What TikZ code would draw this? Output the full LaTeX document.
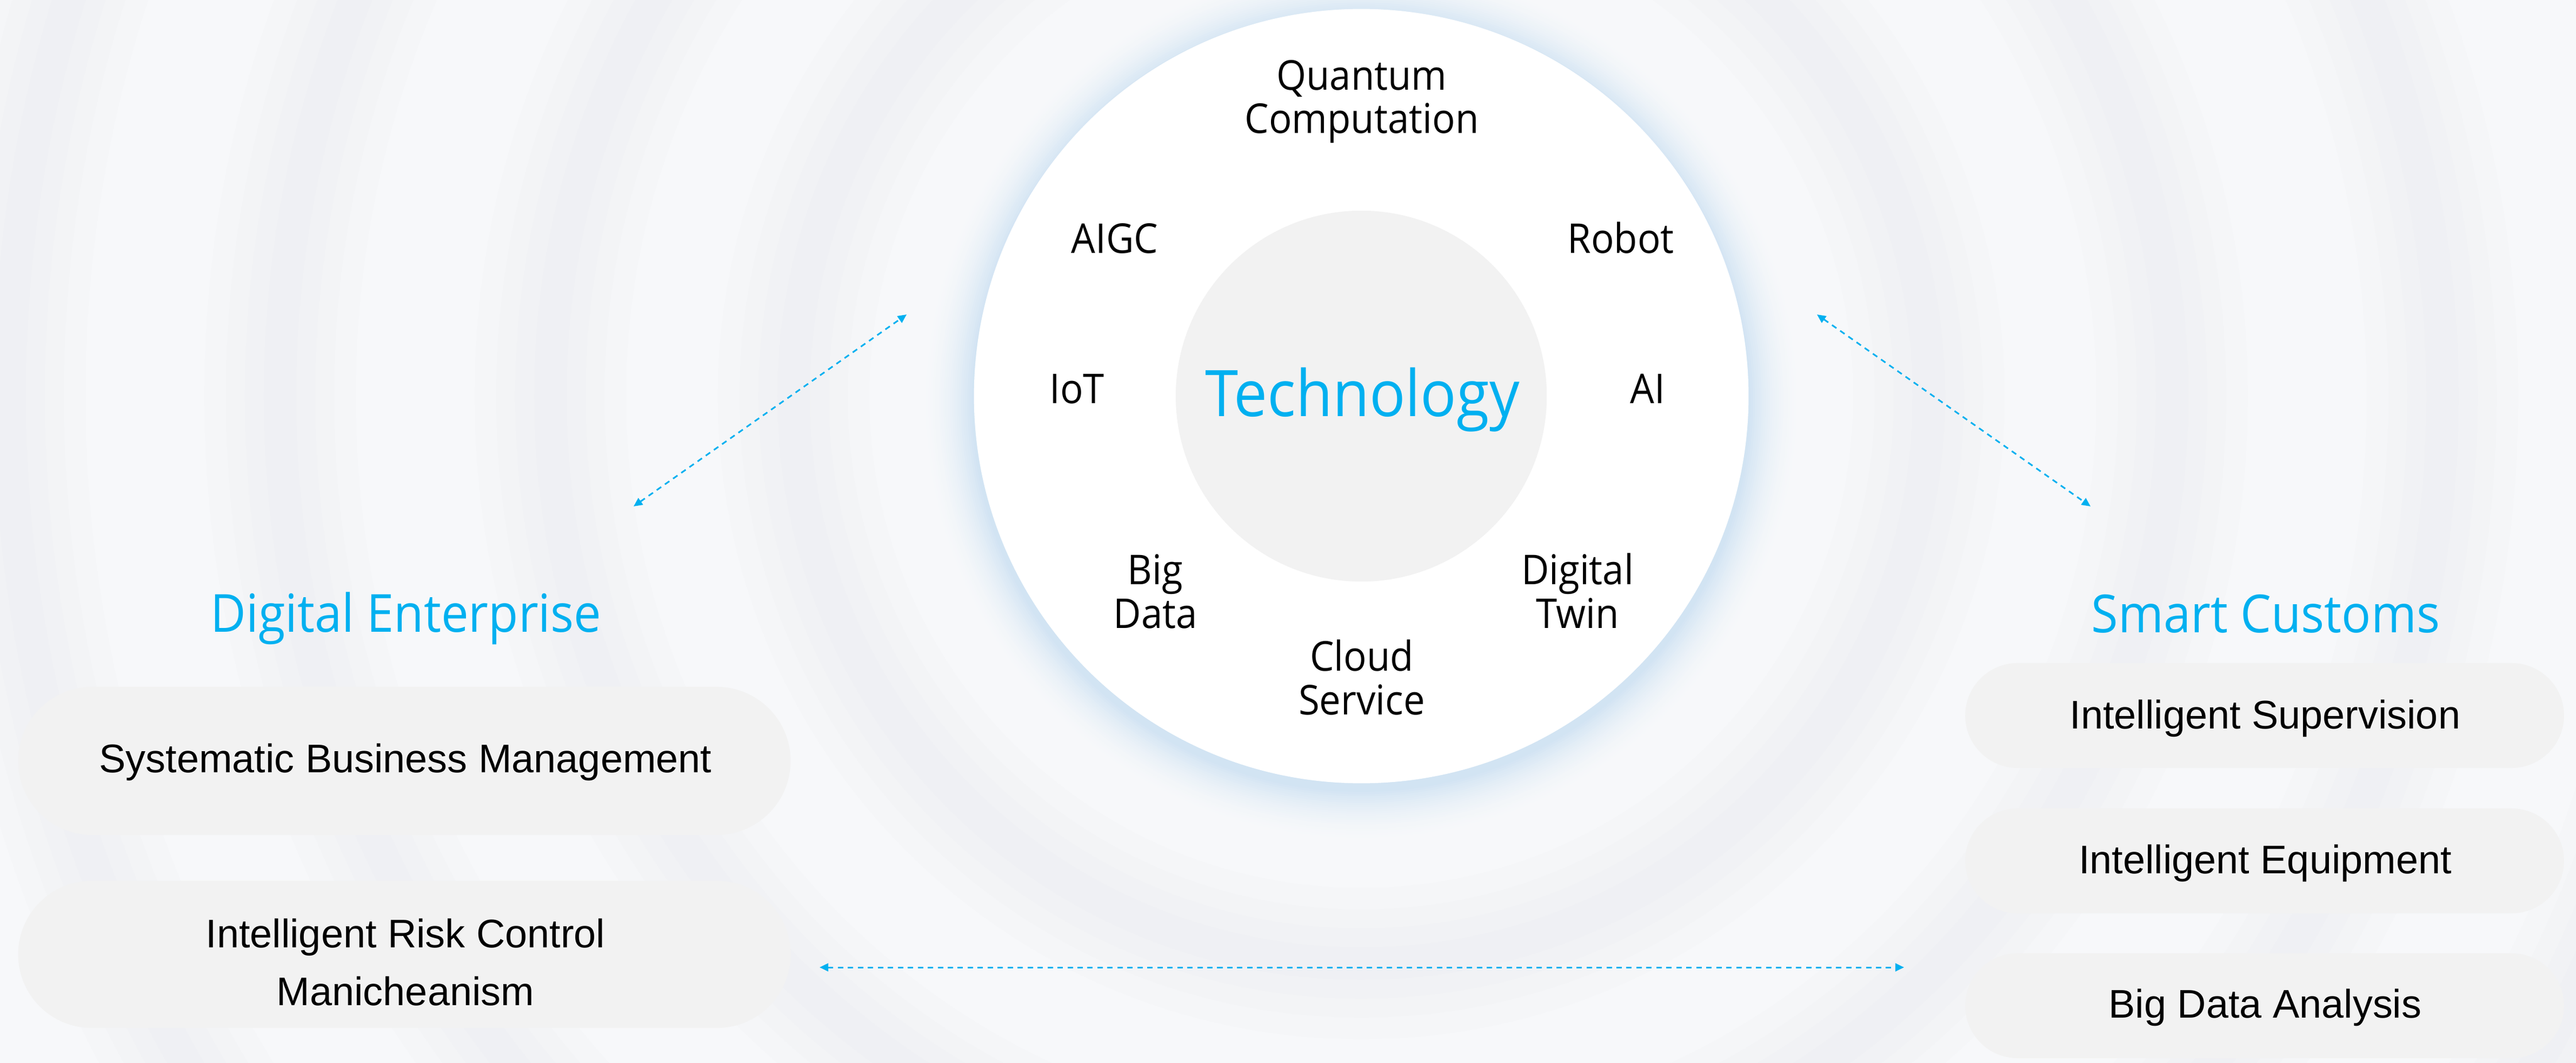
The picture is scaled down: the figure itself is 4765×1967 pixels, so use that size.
\documentclass[tikz,border=0pt]{standalone}
\usepackage{fontspec}
\setmainfont{Liberation Sans}
\newfontfamily\segfont[FakeStretch=0.93]{Open Sans}
\usetikzlibrary{arrows.meta}
\definecolor{cblue}{RGB}{0,176,240}
\definecolor{pillgray}{RGB}{242,242,242}
\definecolor{bgbase}{RGB}{247,248,250}
\definecolor{ripple}{RGB}{229,232,238}
\definecolor{glow}{RGB}{210,228,243}
\begin{document}
\begin{tikzpicture}[x=0.01cm,y=-0.01cm,
  pill/.style={fill=pillgray, draw=none, inner sep=0pt, rectangle},
  boxtext/.style={font=\fontsize{21}{30.2}\selectfont, anchor=base, inner sep=0pt, align=center, text=black},
  techlabel/.style={font=\segfont\fontsize{21.6}{22.8}\selectfont, anchor=base, inner sep=0pt, align=center, text=black},
  heading/.style={font=\segfont\fontsize{27.6}{30}\selectfont, text=cblue, anchor=base, inner sep=0pt},
  link/.style={draw=cblue, line width=0.85pt, dash pattern=on 2.85pt off 2.4pt,
    {Triangle[length=4.6pt,width=4.2pt]}-{Triangle[length=4.6pt,width=4.2pt]}}
]
\useasboundingbox (0,0) rectangle (4765,1967);
\fill[bgbase] (0,0) rectangle (4765,1967);
\begin{scope}
\clip (0,0) rectangle (4765,1967);
\foreach \R in {1050,1500,2000,2500}{
  \foreach \w in {2.8,2.0,1.3,0.6}{
    \draw[ripple, opacity=0.1, line width=\w cm] (2518,733) circle[radius=\R*0.01cm];
  }
}
\foreach \i in {1,...,25}{
  \pgfmathtruncatemacro{\pct}{\i*\i/6.25}
  \fill[glow!\pct!bgbase] (2518,745) circle[radius={7.16cm+(26-\i)*0.04cm}];
}
\end{scope}

% central circles
\node[circle, fill=white, minimum size=14.32cm, inner sep=0pt] (outer) at (2518,733) {};
\node[circle, fill=pillgray, minimum size=6.86cm, inner sep=0pt] (inner) at (2518,733) {};
\node[techlabel, font=\segfont\fontsize{33.8}{36}\selectfont, text=cblue] (tech) at (2520,770) {Technology};

\node[techlabel] (qc) at (2519,247) {Quantum\\Computation};
\node[techlabel] (aigc) at (2062,469) {AIGC};
\node[techlabel] (robot) at (2998,469) {Robot};
\node[techlabel] (iot) at (1992,746) {IoT};
\node[techlabel] (ai) at (3048,746) {AI};
\node[techlabel] (bigdata) at (2137,1162) {Big\\Data};
\node[techlabel] (twin) at (2918,1162) {Digital\\Twin};
\node[techlabel] (cloud) at (2519,1322) {Cloud\\Service};

% left
\node[heading] (de) at (751,1169) {Digital Enterprise};
\node[pill, minimum width=14.28cm, minimum height=2.74cm, rounded corners=1.37cm] (l1) at (748,1408) {};
\node[boxtext] (l1t) at (750,1429) {Systematic Business Management};
\node[pill, minimum width=14.28cm, minimum height=2.72cm, rounded corners=1.36cm] (l2) at (748,1766) {};
\node[boxtext] (l2t) at (750,1860) {Intelligent Risk Control\\Manicheanism};

% right
\node[heading] (sc) at (4191,1170) {Smart Customs};
\node[pill, minimum width=11.07cm, minimum height=1.94cm, rounded corners=0.97cm] (r1) at (4189,1324) {};
\node[boxtext] (r1t) at (4190,1348) {Intelligent Supervision};
\node[pill, minimum width=11.07cm, minimum height=1.94cm, rounded corners=0.97cm] (r2) at (4189,1593) {};
\node[boxtext] (r2t) at (4190,1616) {Intelligent Equipment};
\node[pill, minimum width=11.07cm, minimum height=1.94cm, rounded corners=0.97cm] (r3) at (4189,1861) {};
\node[boxtext] (r3t) at (4190,1883) {Big Data Analysis};

% connectors
\coordinate (a1s) at (1172,937);
\coordinate (a1e) at (1677,582);
\coordinate (a2s) at (3361,582);
\coordinate (a2e) at (3867,937);
\coordinate (a3s) at (1516,1790);
\coordinate (a3e) at (3522,1790);
\draw[link] (a1s) -- (a1e);
\draw[link] (a2s) -- (a2e);
\draw[link] (a3s) -- (a3e);
\end{tikzpicture}
\end{document}
